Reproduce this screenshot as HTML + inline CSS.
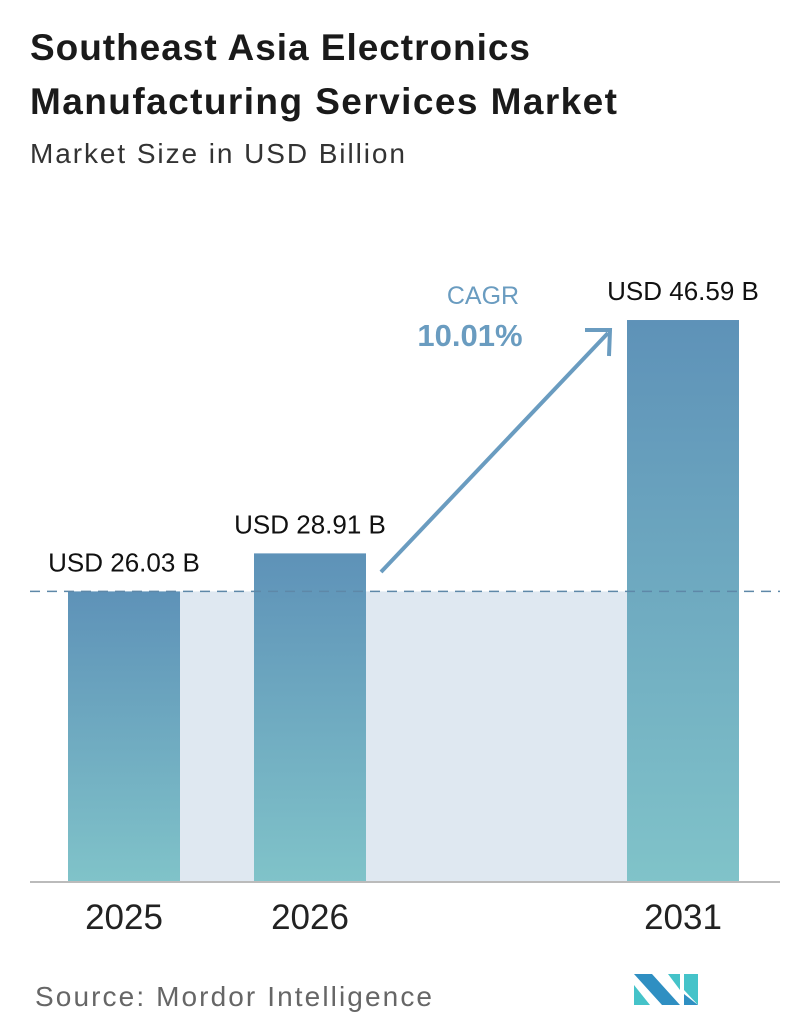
<!DOCTYPE html>
<html><head><meta charset="utf-8"><style>
body{margin:0;background:#fff;font-family:"Liberation Sans",sans-serif}
#wrap{position:relative;width:796px;height:1034px;overflow:hidden}
</style></head><body>
<div id="wrap">
<svg id="c" width="796" height="1034">
<defs><linearGradient id="g" x1="0" y1="0" x2="0" y2="1"><stop offset="0" stop-color="#5e92b8"/><stop offset="1" stop-color="#80c3c9"/></linearGradient></defs>
<text x="30" y="60" font-size="37" font-weight="bold" fill="#1a1a1a" textLength="500">Southeast Asia Electronics</text>
<text x="30" y="114" font-size="37" font-weight="bold" fill="#1a1a1a" textLength="587">Manufacturing Services Market</text>
<text x="30" y="163" font-size="28" fill="#333" textLength="375">Market Size in USD Billion</text>
<g id="marks"></g>
<text x="483" y="304" font-size="25" fill="#6a9cc0" text-anchor="middle">CAGR</text>
<text x="470" y="346" font-size="31" font-weight="bold" fill="#6a9cc0" text-anchor="middle">10.01%</text>
<line x1="381" y1="572" x2="608" y2="333" stroke="#6a9cc0" stroke-width="4"/>
<polyline points="585,330 610,330 609,356" fill="none" stroke="#6a9cc0" stroke-width="4"/>
<text x="35" y="1006" font-size="28" fill="#666" textLength="397">Source:  Mordor Intelligence</text>
<g>
<polygon points="634,974 652,974 680,1005 662,1005" fill="#2f8fc2"/>
<polygon points="634,985 650,1005 634,1005" fill="#45c3c9"/>
<polygon points="668,974 680,974 680,990" fill="#45c3c9"/>
<polygon points="684,974 698,974 698,1005 684,990" fill="#45c3c9"/>
<polygon points="684,994 698,1005 684,1005" fill="#2f8fc2"/>
</g>
</svg>
</div>
<script>
const categories=["2025","2026","2031"];
const values=[26.03,28.91,46.59];
const labels=["USD 26.03 B","USD 28.91 B","USD 46.59 B"];
const base=882;
const xs=[68,254,627];
function y(v){return base-( -53+13.2*v);}
const ns="http://www.w3.org/2000/svg";
const g=document.getElementById('marks');
function mk(t,a){const e=document.createElementNS(ns,t);for(const k in a)e.setAttribute(k,a[k]);g.appendChild(e);return e;}
const sh=mk('rect',{x:180,y:y(values[0]),width:447,height:base-y(values[0]),fill:'#dfe8f1'});


values.forEach((v,i)=>{
 const r=mk('rect',{x:xs[i],y:y(v),width:112,height:base-y(v),fill:'url(#g)'});
 
 
 const t=mk('text',{x:xs[i]+56,y:y(v)-20,'font-size':26,'text-anchor':'middle',fill:'#111'});
 t.textContent=labels[i];
 
 
 const c=mk('text',{x:xs[i]+56,y:929,'font-size':35,'text-anchor':'middle',fill:'#222'});
 c.textContent=categories[i];
 
 
});
const d=mk('line',{x1:30,x2:780,y1:y(values[0]),y2:y(values[0]),stroke:'#5e88a8','stroke-width':1.5,'stroke-dasharray':'10 7'});


const ax=mk('line',{x1:30,x2:780,y1:base,y2:base,stroke:'#bbb','stroke-width':2});


</script>
</body></html>
